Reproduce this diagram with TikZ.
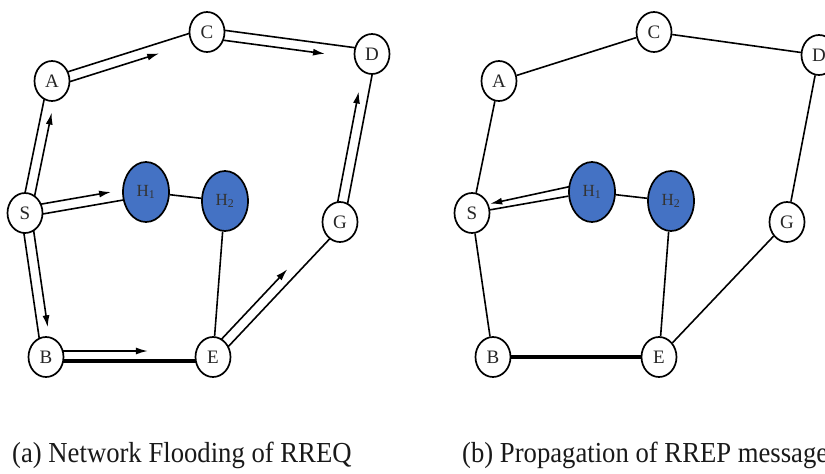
\documentclass[tikz,border=0pt]{standalone}
\usepackage{fontspec}
\setmainfont{Liberation Serif}
\newfontfamily\capfont[FakeStretch=0.92]{Liberation Serif}
\usetikzlibrary{calc,arrows.meta,backgrounds,shapes.geometric}
\definecolor{hblue}{HTML}{4472C4}
\tikzset{
  nd/.style={ellipse,draw=black,line width=1.7pt,fill=white,minimum width=35pt,minimum height=40pt,
    inner sep=0pt,font=\fontsize{19}{19}\selectfont,text=black!85},
  hn/.style={nd,fill=hblue,minimum width=46pt,minimum height=60pt,font=\fontsize{17}{17}\selectfont,text=black!80},
  edge/.style={line width=1.6pt,black},
  thickedge/.style={line width=3.2pt,black},
  flow/.style={line width=1.6pt,black,-{Latex[length=12pt,width=7pt]}},
  captext/.style={anchor=base west,inner sep=0pt,font=\capfont\fontsize{29}{29}\selectfont,text=black!90}
}
% #1 from, #2 to, #3 arrow end fraction, #4 arrow side angle, #5 edge side angle, #6 edge style
\newcommand\pairedge[6]{%
  \draw[#6] ($(#1.center)!4pt!#5:(#2.center)$) -- ($(#2.center)!4pt!#4:(#1.center)$);
  \draw[flow] ($(#1.center)!6pt!#4:(#2.center)$) --
    ($($(#1.center)!#3!(#2.center)$)+($(#1.center)!6pt!#4:(#2.center)$)-(#1.center)$);
}
\begin{document}
\begin{tikzpicture}[x=1pt,y=-1pt]
\useasboundingbox (0,0) rectangle (825,474);
\clip (0,0) rectangle (825,474);
% ---------- left panel (a) ----------
\node[nd] (A) at (52,81) {A};
\node[nd] (C) at (207,32) {C};
\node[nd] (D) at (372,54) {D};
\node[nd] (S) at (25,213) {S};
\node[hn] (H1) at (146,192) {H\textsubscript{1}};
\node[hn] (H2) at (225,201) {H\textsubscript{2}};
\node[nd] (G) at (340,222) {G};
\node[nd] (B) at (46,357) {B};
\node[nd] (E) at (213,357) {E};
\begin{pgfonlayer}{background}
  \pairedge{A}{C}{0.68}{-90}{90}{edge}
  \pairedge{C}{D}{0.72}{-90}{90}{edge}
  \pairedge{S}{A}{0.77}{-90}{90}{edge}
  \pairedge{S}{H1}{0.72}{90}{-90}{edge}
  \pairedge{S}{B}{0.80}{90}{-90}{edge}
  \pairedge{B}{E}{0.61}{90}{-90}{thickedge}
  \pairedge{E}{G}{0.62}{90}{-90}{edge}
  \pairedge{G}{D}{0.77}{90}{-90}{edge}
\end{pgfonlayer}
\draw[edge] (H1) -- (H2);
\draw[edge] (H2) -- (E);
% ---------- right panel (b) ----------
\node[nd] (rA) at (499,81) {A};
\node[nd] (rC) at (654,32) {C};
\node[nd] (rD) at (819,55) {D};
\node[nd] (rS) at (472,213) {S};
\node[hn] (rH1) at (592,192) {H\textsubscript{1}};
\node[hn] (rH2) at (671,201) {H\textsubscript{2}};
\node[nd] (rG) at (787,222) {G};
\node[nd] (rB) at (493,357) {B};
\node[nd] (rE) at (659,357) {E};
\draw[edge] (rA) -- (rC);
\draw[edge] (rC) -- (rD);
\draw[edge] (rS) -- (rA);
\draw[edge] (rS) -- (rB);
\draw[thickedge] (rB) -- (rE);
\draw[edge] (rH1) -- (rH2);
\draw[edge] (rH2) -- (rE);
\draw[edge] (rE) -- (rG);
\draw[edge] (rG) -- (rD);
\draw[edge] (rS) -- (rH1);
\begin{pgfonlayer}{background}
  \draw[flow] ($(rH1.center)!10pt!-90:(rS.center)$) --
    ($($(rH1.center)!0.84!(rS.center)$)+($(rH1.center)!6pt!-90:(rS.center)$)-(rH1.center)$);
\end{pgfonlayer}
% ---------- captions ----------
\node[captext] (capa) at (12,462) {(a) Network Flooding of RREQ};
\node[captext] (capb) at (462,462) {(b) Propagation of RREP message};
\end{tikzpicture}
\end{document}
